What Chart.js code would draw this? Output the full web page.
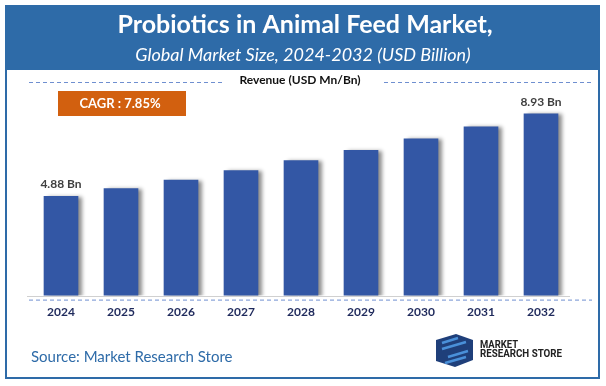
<!DOCTYPE html>
<html>
<head>
<meta charset="utf-8">
<script src="https://cdn.jsdelivr.net/npm/chart.js@4"></script>
<style>
	html, body { margin: 0; padding: 0; background: #fff; }
	#wrap { width: 606px; height: 386px; position: relative; }
</style>
</head>
<body>
<div id="wrap"><canvas id="chart" width="606" height="386"></canvas></div>
<script>
// データ
const years = [ '2024', '2025', '2026', '2027', '2028', '2029', '2030', '2031', '2032' ];
const revenue = [ 4.88, 5.26, 5.67, 6.14, 6.63, 7.13, 7.70, 8.29, 8.93 ];
const labelledYears = [ '2024', '2032' ];
const titleText = 'Probiotics in Animal Feed Market,';
const subtitleText = 'Global Market Size, 2024-2032 (USD Billion)';
const cagrText = 'CAGR : 7.85%';

const BLUE = '#2e6ba8';
const FONT = 'Lato, "Open Sans", sans-serif';

/**
 * 枠・ヘッダー・注記などの装飾を描く
 */
const decor = {
	id: 'decor',
	beforeDraw( chart ) {
		const ctx = chart.ctx;
		ctx.save();
		ctx.fillStyle = '#fff';
		ctx.fillRect( 0, 0, 606, 386 );

		// 枠
		ctx.strokeStyle = BLUE;
		ctx.lineWidth = 2;
		ctx.strokeRect( 6, 6, 593, 372 );

		// ヘッダー
		ctx.fillStyle = BLUE;
		ctx.fillRect( 6, 6, 593, 64 );
		ctx.fillStyle = '#fff';
		ctx.textAlign = 'center';
		ctx.textBaseline = 'middle';
		ctx.font = 'bold 25px ' + FONT;
		ctx.fillText( titleText, 305, 25, 384 );
		ctx.font = 'italic 18px ' + FONT;
		ctx.fillText( subtitleText, 303, 55, 342 );

		// Revenue 見出し
		ctx.fillStyle = '#111';
		ctx.font = 'bold 12px ' + FONT;
		ctx.fillText( 'Revenue (USD Mn/Bn)', 300, 80, 138 );

		ctx.strokeStyle = '#6f8fd0';
		ctx.lineWidth = 1;
		ctx.setLineDash( [ 4, 3 ] );
		ctx.beginPath();
		ctx.moveTo( 29, 82.5 );
		ctx.lineTo( 222, 82.5 );
		ctx.moveTo( 384, 82.5 );
		ctx.lineTo( 593, 82.5 );
		ctx.stroke();
		ctx.setLineDash( [] );

		// CAGR
		ctx.fillStyle = '#d2600f';
		ctx.fillRect( 58, 91, 128, 25 );
		ctx.fillStyle = '#fff';
		ctx.font = 'bold 13px ' + FONT;
		ctx.fillText( cagrText, 120, 104, 90 );

		// 出典
		ctx.textAlign = 'left';
		ctx.fillStyle = BLUE;
		ctx.font = '15px ' + FONT;
		ctx.fillText( 'Source: Market Research Store', 31, 357, 202 );

		// ロゴ
		ctx.fillStyle = '#1f3f7a';
		ctx.beginPath();
		ctx.moveTo( 436, 340 );
		ctx.lineTo( 456, 334 );
		ctx.lineTo( 473, 340 );
		ctx.lineTo( 473, 360 );
		ctx.lineTo( 455, 367 );
		ctx.lineTo( 436, 361 );
		ctx.closePath();
		ctx.fill();
		ctx.strokeStyle = '#4a90d9';
		ctx.lineWidth = 2.5;
		ctx.beginPath();
		ctx.moveTo( 442, 343 );
		ctx.lineTo( 458, 338 );
		ctx.moveTo( 442, 349 );
		ctx.lineTo( 466, 342 );
		ctx.moveTo( 448, 357 );
		ctx.lineTo( 468, 351 );
		ctx.moveTo( 445, 363 );
		ctx.lineTo( 466, 357 );
		ctx.stroke();
		ctx.fillStyle = '#222';
		ctx.font = 'bold 11px "Liberation Sans Narrow", "Roboto", sans-serif';
		ctx.fillText( 'MARKET', 480, 345, 38 );
		ctx.fillText( 'RESEARCH STORE', 480, 354, 82 );
		ctx.restore();
	},
	beforeDatasetsDraw( chart ) {
		const ctx = chart.ctx;
		ctx.save();
		ctx.shadowColor = 'rgba(0,0,0,0.45)';
		ctx.shadowOffsetX = 4;
		ctx.shadowOffsetY = 1;
		ctx.shadowBlur = 4;
	},
	afterDatasetsDraw( chart ) {
		const ctx = chart.ctx;
		ctx.restore();
		const area = chart.chartArea;
		ctx.save();

		// 基線
		ctx.strokeStyle = '#d0d0d0';
		ctx.lineWidth = 1;
		ctx.beginPath();
		ctx.moveTo( 27, Math.round( area.bottom ) + 0.5 );
		ctx.lineTo( 570, Math.round( area.bottom ) + 0.5 );
		ctx.stroke();

		ctx.strokeStyle = '#6f8fd0';
		ctx.setLineDash( [ 4, 3 ] );
		ctx.beginPath();
		ctx.moveTo( 29, area.bottom + 4.5 );
		ctx.lineTo( 592, area.bottom + 4.5 );
		ctx.stroke();
		ctx.setLineDash( [] );

		// 値ラベル
		const meta = chart.getDatasetMeta( 0 );
		ctx.fillStyle = '#404040';
		ctx.font = 'bold 12px ' + FONT;
		ctx.textAlign = 'center';
		ctx.textBaseline = 'middle';
		meta.data.forEach( ( bar, i ) => {
			if ( labelledYears.includes( years[ i ] ) ) {
				ctx.fillText( revenue[ i ].toFixed( 2 ) + ' Bn', bar.x, bar.y - 12 );
			}
		} );
		ctx.restore();
	},
};

new Chart( document.getElementById( 'chart' ), {
	type: 'bar',
	data: {
		labels: years,
		datasets: [
			{
				data: revenue,
				backgroundColor: '#3357a5',
				borderWidth: 0,
				barThickness: 34,
			},
		],
	},
	options: {
		responsive: false,
		animation: false,
		events: [],
		layout: {
			padding: { left: 31, right: 35, top: 92, bottom: 58 },
		},
		scales: {
			x: {
				grid: { display: false, drawTicks: false },
				border: { display: false },
				ticks: {
					color: '#1f2a5c',
					font: { family: FONT, size: 12, weight: 'bold' },
					padding: 9,
				},
			},
			y: {
				display: false,
				min: 0,
				max: 10,
			},
		},
		plugins: {
			legend: { display: false },
			tooltip: { enabled: false },
		},
	},
	plugins: [ decor ],
} );
</script>
</body>
</html>
